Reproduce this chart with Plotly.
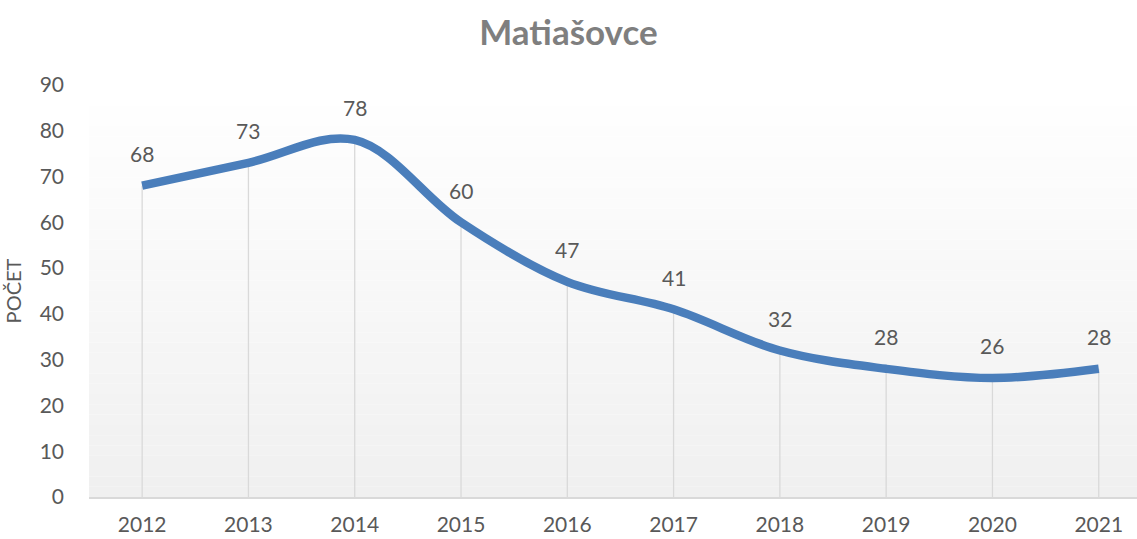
import plotly.graph_objects as go

years = ["2012", "2013", "2014", "2015", "2016", "2017", "2018", "2019", "2020", "2021"]
values = [68, 73, 78, 60, 47, 41, 32, 28, 26, 28]
y_ticks = [0, 10, 20, 30, 40, 50, 60, 70, 80, 90]

FONT = "Lato"
TXT = "#595959"
FS = 21

fig = go.Figure()

# drop lines from points to the axis
fig.add_trace(go.Scatter(
    x=years, y=values, mode="markers",
    marker=dict(size=0.1, color="rgba(0,0,0,0)"),
    error_y=dict(type="data", symmetric=False, array=[0] * len(values),
                 arrayminus=values, color="#d9d9d9", thickness=1.3, width=0),
    hoverinfo="skip", showlegend=False,
))

fig.add_trace(go.Scatter(
    x=years, y=values, mode="lines",
    line=dict(color="#4a7ebb", width=8.5, shape="spline", smoothing=1.0),
    showlegend=False,
))

for i, v in enumerate(values):
    fig.add_annotation(x=i, y=v, xref="x", yref="y", text=str(v), showarrow=False, yshift=32,
                       font=dict(family=FONT, size=FS, color=TXT))

# gradient plot background
n = 40
for i in range(n):
    t = i / (n - 1)
    c = int(round(255 - (255 - 240) * (1 - t)))
    fig.add_shape(type="rect", xref="paper", yref="paper", layer="below",
                  x0=0, x1=1, y0=i / n, y1=(i + 1) / n,
                  fillcolor=f"rgb({c},{c},{c})", line=dict(width=0))

fig.update_layout(
    width=1137, height=539,
    margin=dict(l=89, r=0, t=85, b=42),
    paper_bgcolor="white", plot_bgcolor="rgba(0,0,0,0)",
    title=dict(text="<b>Matiašovce</b>", x=0.5, xanchor="center", y=0.94, yanchor="middle",
               font=dict(family=FONT, size=35, color="#7f7f7f")),
    font=dict(family=FONT, size=FS, color=TXT),
    xaxis=dict(type="category", range=[-0.5, 9.36], showgrid=False, zeroline=False,
               showline=True, linecolor="#d9d9d9", linewidth=1.5,
               ticks="", tickfont=dict(family=FONT, size=FS, color=TXT), ticklabelstandoff=8),
    yaxis=dict(range=[0, 90], tickvals=y_ticks, showgrid=False, zeroline=False,
               showline=False, ticks="", ticklabelstandoff=24,
               tickfont=dict(family=FONT, size=FS, color=TXT),
               title=dict(text="POČET", font=dict(family=FONT, size=FS - 1, color=TXT), standoff=12)),
)

fig.write_html("out.html")
